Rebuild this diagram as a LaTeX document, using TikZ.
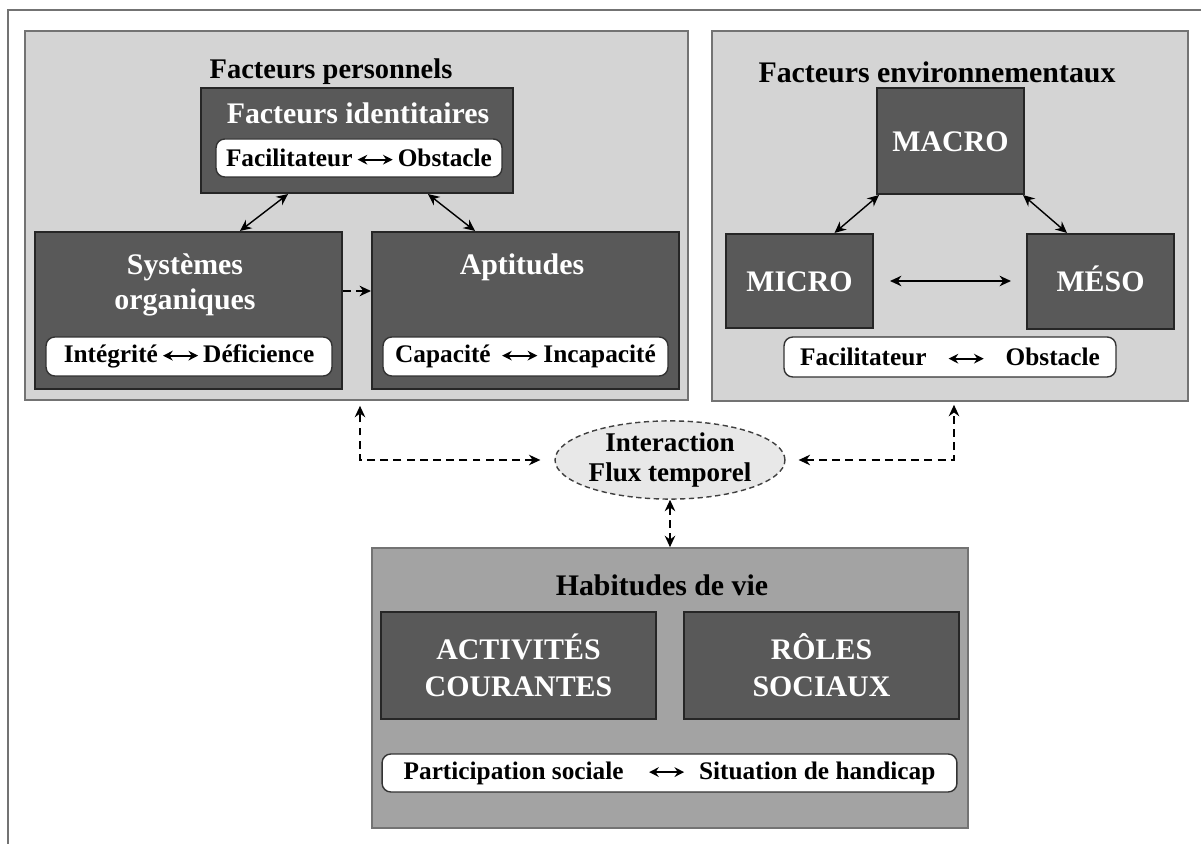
\documentclass[tikz,border=0pt]{standalone}
\usepackage{fontspec}
\setmainfont{Liberation Serif}
\usetikzlibrary{arrows.meta,shapes.geometric}
\definecolor{panneau}{gray}{0.83}
\definecolor{fonce}{gray}{0.35}
\definecolor{moyen}{gray}{0.64}
\definecolor{clair}{gray}{0.91}
\definecolor{trait}{gray}{0.45}
% petite fleche double dans les cartouches
\newcommand{\fl}{\tikz[baseline=-0.6ex]\draw[line width=1pt,{Stealth[length=5.5pt,width=5.5pt]}-{Stealth[length=5.5pt,width=5.5pt]}] (0pt,0pt) -- (20pt,0pt);}
\tikzset{
  panel/.style={draw=trait, line width=1pt, fill=panneau, inner sep=0pt},
  dbox/.style={draw=black!85, line width=1.2pt, fill=fonce, text=white, align=center, inner sep=0pt, font=\bfseries\fontsize{17}{21}\selectfont},
  pill/.style={draw=black!80, line width=0.8pt, fill=white, rounded corners=5pt, inner sep=0pt, font=\bfseries\fontsize{14.4}{17}\selectfont},
  titre/.style={align=center, font=\bfseries\fontsize{17}{20.4}\selectfont},
  lien/.style={line width=0.8pt, {Stealth[length=6.5pt,width=6pt]}-{Stealth[length=6.5pt,width=6pt]}},
  tirets/.style={lien, dash pattern=on 4.5pt off 3pt}
}
\begin{document}
\begin{tikzpicture}[x=0.02cm, y=-0.02cm]
\useasboundingbox (0,0) rectangle (1201,844);
\draw[trait, line width=1.2pt] (1201,10) -- (8,10) -- (8,844);

% facteurs personnels
\node[panel, minimum width=13.26cm, minimum height=7.38cm] (FP) at (356.5,215.5) {};
\node[titre, font=\bfseries\fontsize{16.2}{20}\selectfont] (tFP) at (331,72) {Facteurs personnels};
\node[dbox, minimum width=6.24cm, minimum height=2.1cm] (FI) at (357,140.5) {};
\node[titre, text=white] (tFI) at (358,113) {Facteurs identitaires};
\node[pill, minimum width=5.72cm, minimum height=0.76cm] (pFI) at (359,158) {Facilitateur\,\fl\,Obstacle};
\node[dbox, minimum width=6.14cm, minimum height=3.14cm] (SO) at (188.5,310.5) {};
\node[titre, text=white] (tSO) at (185,285) {Systèmes\\organiques};
\node[pill, minimum width=5.72cm, minimum height=0.78cm] (pSO) at (189,356.5) {Intégrité\,\fl\,Déficience};
\node[dbox, minimum width=6.14cm, minimum height=3.14cm] (AP) at (525.5,310.5) {};
\node[titre, text=white] (tAP) at (522,267) {Aptitudes};
\node[pill, minimum width=5.7cm, minimum height=0.78cm] (pAP) at (525.5,356.5) {Capacité\hspace{6pt}\fl\hspace{3pt}Incapacité};

% facteurs environnementaux
\node[panel, minimum width=9.52cm, minimum height=7.4cm] (FE) at (950,216) {};
\node[titre] (tFE) at (937,72) {Facteurs environnementaux};
\node[dbox, text height=11.5pt, text depth=0pt, minimum width=2.94cm, minimum height=2.12cm] (MA) at (950.5,141) {MACRO};
\node[dbox, text height=11.5pt, text depth=0pt, minimum width=2.94cm, minimum height=1.88cm] (MI) at (799.5,281) {MICRO};
\node[dbox, text height=11.5pt, text depth=0pt, minimum width=2.94cm, minimum height=1.9cm] (ME) at (1100.5,281.5) {MÉSO};
\node[pill, minimum width=6.64cm, minimum height=0.8cm] (pFE) at (950,357) {Facilitateur\hspace{12pt}\fl\hspace{12pt}Obstacle};

% interaction
\node[ellipse, draw=black!75, line width=0.8pt, dash pattern=on 3pt off 2pt, fill=clair, minimum width=4.52cm, minimum height=1.56cm, inner sep=0pt, align=center, font=\bfseries\fontsize{15.4}{17.5}\selectfont] (IN) at (670,460) {Interaction\\Flux temporel};

% habitudes de vie
\node[panel, fill=moyen, minimum width=11.92cm, minimum height=5.6cm] (HV) at (670,688) {};
\node[titre] (tHV) at (662,585) {Habitudes de vie};
\node[dbox, minimum width=5.5cm, minimum height=2.14cm] (AC) at (518.5,665.5) {ACTIVITÉS\\COURANTES};
\node[dbox, minimum width=5.5cm, minimum height=2.14cm] (RS) at (821.5,665.5) {RÔLES\\SOCIAUX};
\node[pill, minimum width=11.5cm, minimum height=0.76cm] (pHV) at (669.5,773) {Participation sociale\hspace{14pt}\fl\hspace{8pt}Situation de handicap};

% liens
\draw[lien] ([xshift=-1.38cm]FI.south) -- ([xshift=1.03cm]SO.north);
\draw[lien] ([xshift=1.42cm]FI.south) -- ([xshift=-1.01cm]AP.north);
\draw[line width=0.8pt, dash pattern=on 4.5pt off 3pt, -{Stealth[length=6.5pt,width=6pt]}] ([yshift=0.39cm]SO.east) -- ([yshift=0.39cm]AP.west);
\draw[lien] ([xshift=0.06cm]MA.south west) -- ([xshift=0.7cm]MI.north);
\draw[lien] ([xshift=-0.04cm]MA.south east) -- ([xshift=-0.67cm]ME.north);
\draw[lien, shorten <=0.32cm, shorten >=0.3cm] (MI.east) -- (MI.east -| ME.west);
\draw[tirets, shorten <=0.28cm, shorten >=0.1cm] (IN.west) -| ([xshift=0.07cm]FP.south);
\draw[tirets, shorten <=0.26cm, shorten >=0.06cm] (IN.east) -| ([xshift=0.08cm]FE.south);
\draw[tirets] (IN) -- (HV);
\end{tikzpicture}
\end{document}
